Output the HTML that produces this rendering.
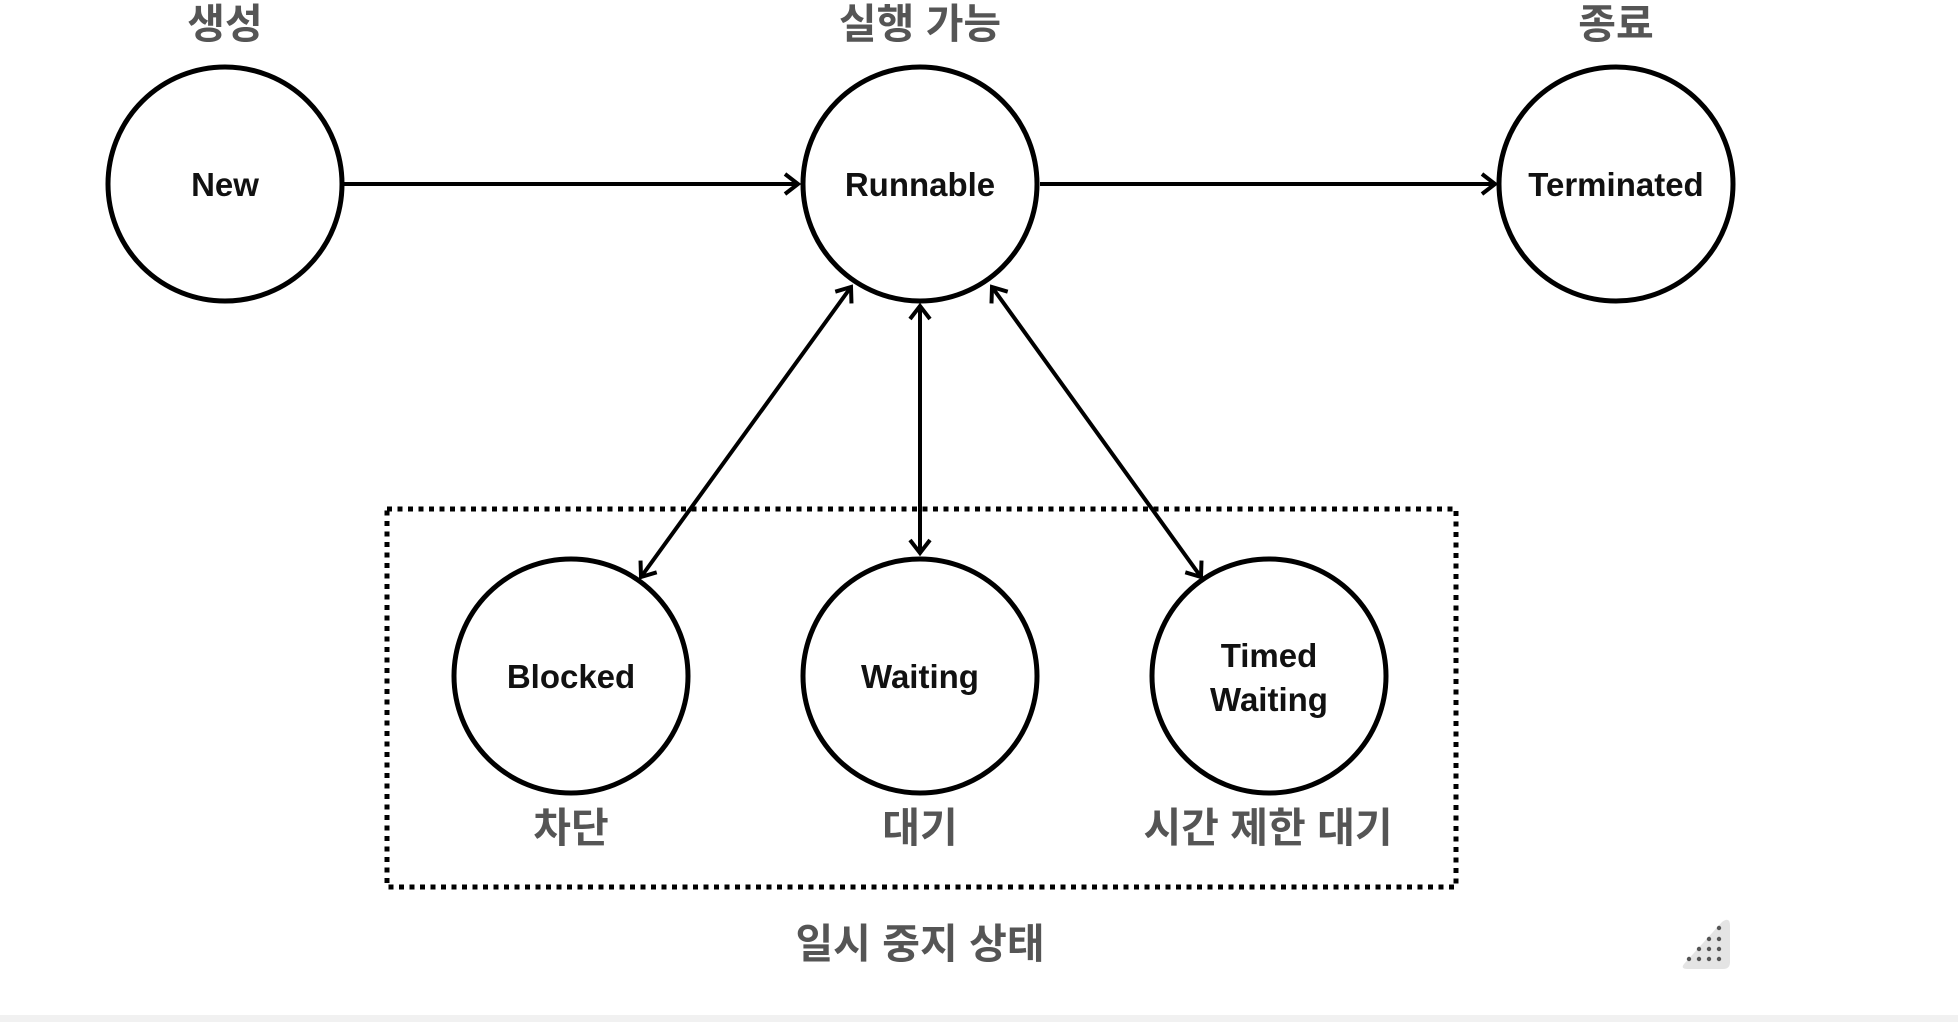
<!DOCTYPE html>
<html><head><meta charset="utf-8"><style>
html,body{margin:0;padding:0;background:#fff;width:1958px;height:1022px;overflow:hidden}
svg{display:block}
.n{font-family:"Liberation Sans",sans-serif;font-weight:bold;font-size:33px;fill:#111;text-anchor:middle}
.k{font-family:"Liberation Sans","Noto Sans CJK KR",sans-serif;font-weight:bold;font-size:41px;fill:#555;text-anchor:middle}
</style></head><body>
<svg width="1958" height="1022" viewBox="0 0 1958 1022">
<defs>
<marker id="a" markerWidth="20" markerHeight="24" refX="16" refY="12" orient="auto-start-reverse" markerUnits="userSpaceOnUse">
<path d="M3,2 L16,12 L3,22" fill="none" stroke="#000" stroke-width="4"/>
</marker>
</defs>
<rect x="0" y="1015" width="1958" height="7" fill="#f1f1f1"/>
<g fill="#fff" stroke="#000" stroke-width="5">
<circle cx="225" cy="184" r="117"/>
<circle cx="920" cy="184" r="117"/>
<circle cx="1616" cy="184" r="117"/>
<circle cx="571" cy="676" r="117"/>
<circle cx="920" cy="676" r="117"/>
<circle cx="1269" cy="676" r="117"/>
</g>
<rect x="387" y="509" width="1069" height="378" fill="none" stroke="#000" stroke-width="5" stroke-dasharray="5 5.5"/>
<g stroke="#000" stroke-width="4" fill="none">
<line x1="344" y1="184" x2="798" y2="184" marker-end="url(#a)"/>
<line x1="1040" y1="184" x2="1495" y2="184" marker-end="url(#a)"/>
<line x1="851" y1="287" x2="641" y2="577" marker-start="url(#a)" marker-end="url(#a)"/>
<line x1="920" y1="306" x2="920" y2="553" marker-start="url(#a)" marker-end="url(#a)"/>
<line x1="992" y1="287" x2="1201" y2="577" marker-start="url(#a)" marker-end="url(#a)"/>
</g>
<text class="n" x="225" y="196">New</text>
<text class="n" x="920" y="196">Runnable</text>
<text class="n" x="1616" y="196">Terminated</text>
<text class="n" x="571" y="688">Blocked</text>
<text class="n" x="920" y="688">Waiting</text>
<text class="n" x="1269" y="667">Timed</text>
<text class="n" x="1269" y="711">Waiting</text>
<text class="k" x="225" y="38">생성</text>
<text class="k" x="920" y="38">실행 가능</text>
<text class="k" x="1616" y="38">종료</text>
<text class="k" x="571" y="842">차단</text>
<text class="k" x="920" y="842">대기</text>
<text class="k" x="1268" y="842">시간 제한 대기</text>
<text class="k" x="920" y="958">일시 중지 상태</text>
<path d="M1684,964 L1722,922 Q1730,916 1730,926 L1730,962 Q1730,969 1723,969 L1688,969 Q1680,969 1684,964Z" fill="#e4e4e4"/>
<g fill="#555">
<circle cx="1719" cy="928" r="2.2"/>
<circle cx="1709" cy="939" r="2.2"/><circle cx="1719" cy="939" r="2.2"/>
<circle cx="1699" cy="949" r="2.2"/><circle cx="1709" cy="949" r="2.2"/><circle cx="1719" cy="949" r="2.2"/>
<circle cx="1689" cy="959" r="2.2"/><circle cx="1699" cy="959" r="2.2"/><circle cx="1709" cy="959" r="2.2"/><circle cx="1719" cy="959" r="2.2"/>
</g>
</svg>
</body></html>
